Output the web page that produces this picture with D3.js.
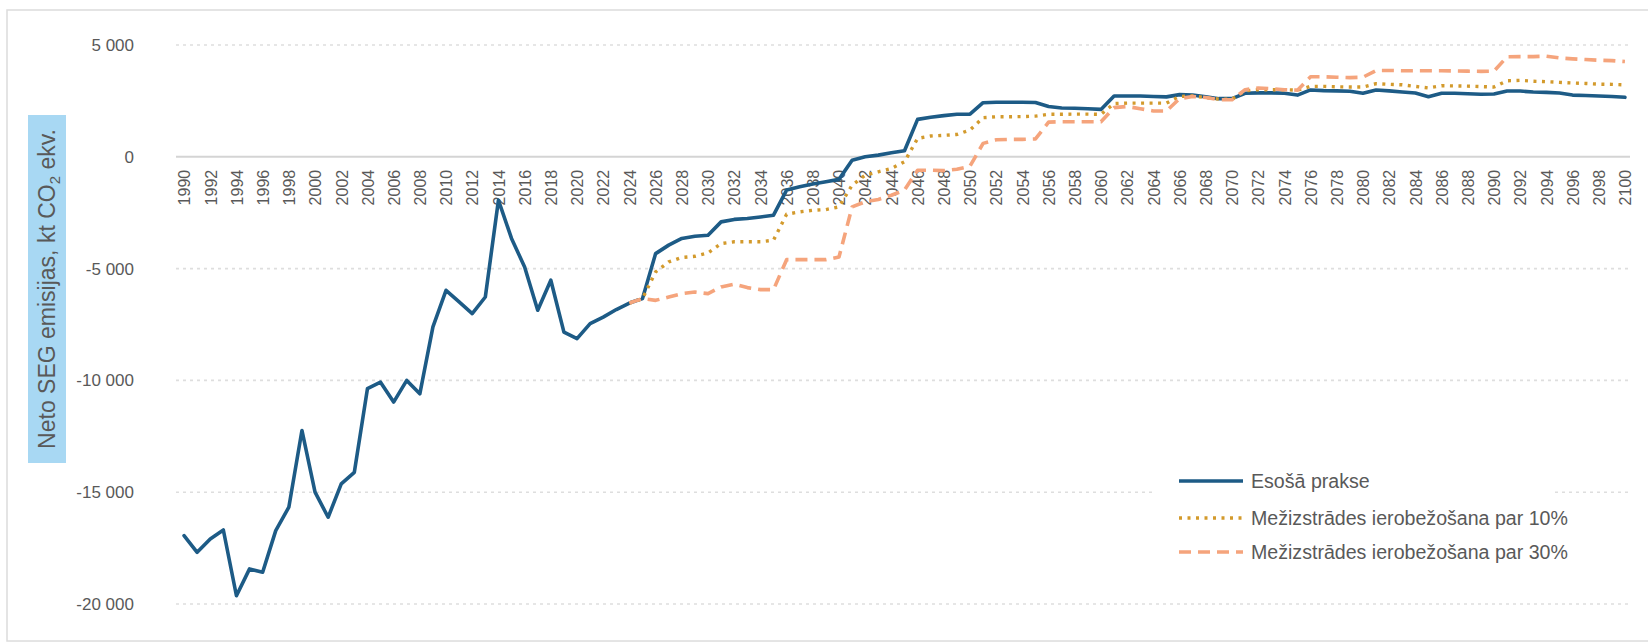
<!DOCTYPE html>
<html><head><meta charset="utf-8">
<script src="https://cdn.jsdelivr.net/npm/d3@7"></script>
<style>
html,body{margin:0;padding:0;background:#fff;}
svg{display:block;font-family:"Liberation Sans",Arial,sans-serif;}
</style></head>
<body>
<svg id="chart" width="1648" height="644"></svg>
<script>
const years = d3.range(1990, 2101);
const xTickLabels = d3.range(1990, 2101, 2);
const yTicks = [5000, 0, -5000, -10000, -15000, -20000];
const seriesNames = ["Esošā prakse", "Mežizstrādes ierobežošana par 10%", "Mežizstrādes ierobežošana par 30%"];

// Esošā prakse, 1990–2100
const baseline = [
 -16940,-17690,-17090,-16690,-19630,-18430,-18580,-16720,-15670,-12240,
 -15000,-16120,-14630,-14110,-10370,-10080,-10970,-10000,-10600,-7610,
 -5970,-6490,-7010,-6270,-1940,-3650,-4930,-6860,-5520,-7840,
 -8130,-7460,-7170,-6830,-6540,-6340,-4330,-3950,-3650,-3550,
 -3510,-2910,-2800,-2760,-2690,-2610,-1490,-1340,-1220,-1120,
 -1010,-150,0,75,180,270,1675,1765,1840,1900,
 1910,2420,2440,2440,2440,2430,2250,2180,2170,2150,
 2120,2720,2720,2720,2700,2680,2780,2760,2680,2600,
 2600,2840,2860,2860,2840,2760,2990,2960,2950,2930,
 2840,2990,2950,2900,2850,2690,2840,2840,2820,2800,
 2810,2940,2940,2900,2880,2850,2760,2740,2720,2700,
 2660
];
// Mežizstrādes ierobežošana par 10%, 2024–2100
const cut10 = [
 -6540,-6340,-5150,-4700,-4500,-4450,
 -4300,-3880,-3800,-3800,-3800,-3730,-2570,-2460,-2390,-2360,
 -2240,-1270,-820,-670,-520,-220,820,930,960,1000,
 1200,1750,1790,1790,1800,1820,1900,1900,1910,1910,
 1900,2380,2400,2400,2400,2400,2700,2720,2650,2580,
 2580,2950,3000,3000,3000,2980,3150,3150,3130,3120,
 3120,3270,3240,3220,3150,3080,3180,3170,3160,3140,
 3120,3400,3420,3380,3360,3330,3300,3280,3250,3240,
 3220
];
// Mežizstrādes ierobežošana par 30%, 2024–2100
const cut30 = [
 -6540,-6340,-6420,-6270,-6120,-6050,
 -6120,-5820,-5700,-5850,-5940,-5940,-4600,-4600,-4600,-4600,
 -4480,-2240,-2010,-1910,-1720,-1490,-600,-600,-620,-560,
 -420,600,760,780,780,800,1550,1570,1570,1570,
 1570,2200,2250,2150,2050,2050,2600,2700,2650,2550,
 2550,3000,3080,3050,3000,2980,3580,3580,3560,3540,
 3560,3860,3860,3850,3850,3850,3850,3840,3830,3820,
 3830,4470,4480,4480,4500,4420,4380,4350,4320,4300,
 4260
];
const projStart = 2024;

const svg = d3.select("#chart");
const textColor = "#595959";
const colors = ["#1d5b86", "#d39a2c", "#f5a47c"];

// outer frame
svg.append("rect").attr("x", 7).attr("y", 10).attr("width", 1660).attr("height", 631)
  .attr("fill", "none").attr("stroke", "#dcdcdc").attr("stroke-width", 1.5);

const x = d3.scalePoint().domain(years).range([177.5, 1631.5]).padding(0.5);
const y = d3.scaleLinear().domain([-20000, 5000]).range([604, 45]);

// gridlines
const gridG = svg.append("g");
gridG.selectAll("line").data(yTicks).join("line")
  .attr("x1", 176).attr("x2", 1630)
  .attr("y1", d => y(d)).attr("y2", d => y(d))
  .attr("stroke", d => d === 0 ? "#d4d4d4" : "#dedede")
  .attr("stroke-width", d => d === 0 ? 2 : 1.6)
  .attr("stroke-dasharray", d => d === 0 ? null : "3,4");

// y axis labels
const fmt = d3.formatLocale({decimal: ",", thousands: " ", grouping: [3], currency: ["", ""], minus: "-"}).format(",d");
const yAxis = svg.append("g").attr("transform", "translate(134,0)")
  .call(d3.axisLeft(y).tickValues(yTicks).tickSize(0).tickPadding(0).tickFormat(fmt));
yAxis.select(".domain").remove();
yAxis.selectAll("text").attr("fill", textColor).attr("font-size", 17)
  .attr("font-family", "'Liberation Sans', Arial, sans-serif");

// x axis labels (category axis crossing at 0)
const xAxis = svg.append("g").attr("transform", `translate(0,${y(0)})`)
  .call(d3.axisBottom(x).tickValues(xTickLabels).tickSize(0).tickFormat(d => String(d)));
xAxis.select(".domain").remove();
xAxis.selectAll("text")
  .attr("fill", textColor).attr("font-size", 16)
  .attr("font-family", "'Liberation Sans', Arial, sans-serif")
  .attr("text-anchor", "end")
  .attr("transform", "rotate(-90)")
  .attr("x", -13).attr("y", 0).attr("dy", "0.36em");

// y axis title with blue background
svg.append("rect").attr("x", 28).attr("y", 115).attr("width", 38).attr("height", 348)
  .attr("fill", "#a8d8f3");
const title = svg.append("text")
  .attr("transform", "translate(55,289) rotate(-90)")
  .attr("text-anchor", "middle").attr("fill", textColor).attr("font-size", 23);
title.append("tspan").text("Neto SEG emisijas, kt CO");
title.append("tspan").attr("font-size", 15).attr("dy", 5).text("2");
title.append("tspan").attr("dy", -5).text(" ekv.");

// lines
const line = d3.line().defined(d => d.v != null).x(d => x(d.year)).y(d => y(d.v));
const baseData = years.map((yr, i) => ({year: yr, v: baseline[i]}));
const c10Data = cut10.map((v, i) => ({year: projStart + i, v}));
const c30Data = cut30.map((v, i) => ({year: projStart + i, v}));

const styles = [
  {w: 3.6, dash: null, cap: "round"},
  {w: 3.4, dash: "3,5.5", cap: "butt"},
  {w: 3.6, dash: "12,7", cap: "butt"}
];
[baseData, c10Data, c30Data].forEach((data, i) => {
  svg.append("path").datum(data)
    .attr("fill", "none").attr("stroke", colors[i])
    .attr("stroke-width", styles[i].w)
    .attr("stroke-linejoin", "round").attr("stroke-linecap", styles[i].cap)
    .attr("stroke-dasharray", styles[i].dash)
    .attr("d", line);
});

// legend
const lg = svg.append("g");
lg.append("rect").attr("x", 1152).attr("y", 460).attr("width", 400).attr("height", 112).attr("fill", "#fff");
const legendY = [481, 518, 552];
seriesNames.forEach((name, i) => {
  lg.append("line").attr("x1", 1179).attr("x2", 1243).attr("y1", legendY[i]).attr("y2", legendY[i])
    .attr("stroke", colors[i]).attr("stroke-width", styles[i].w)
    .attr("stroke-dasharray", styles[i].dash);
  lg.append("text").attr("x", 1251).attr("y", legendY[i]).attr("dy", "0.35em")
    .attr("fill", textColor).attr("font-size", 19.6).text(name);
});
</script>
</body></html>
